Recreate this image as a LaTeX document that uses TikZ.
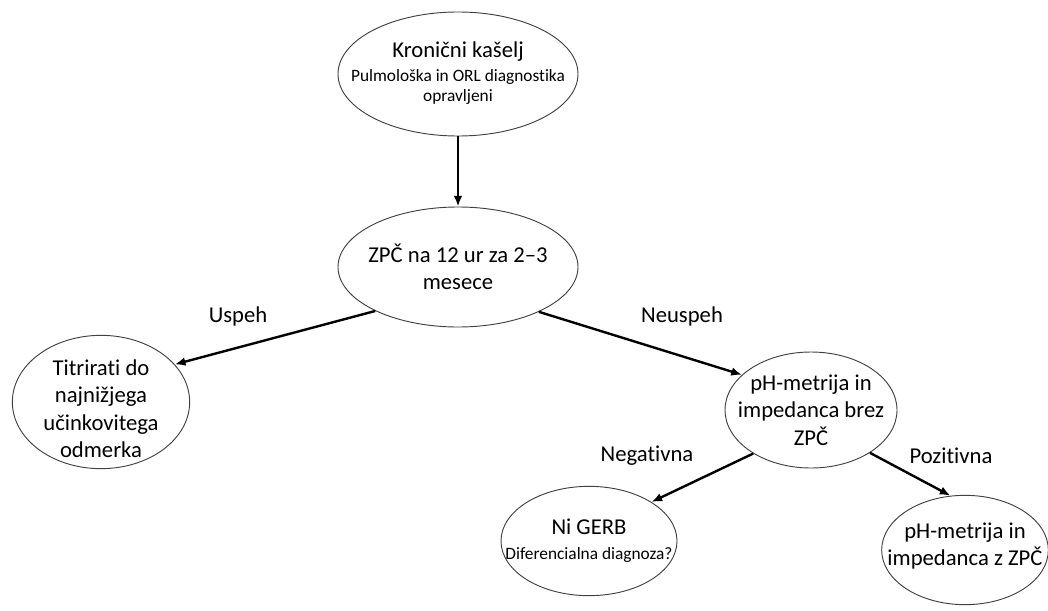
\documentclass[tikz,border=0pt]{standalone}
\usepackage{fontspec}
\setmainfont{Carlito}[Ligatures=NoCommon]
\usepackage{tikz}
\usetikzlibrary{shapes.geometric,arrows.meta}

\tikzset{
  blob/.style={ellipse, draw=black!75, line width=0.7pt, inner sep=0pt},
  flowarrow/.style={-{Latex[length=8pt,width=6.5pt]}, line width=1.8pt},
  bigtext/.style={font=\fontsize{17}{20.5}\selectfont, align=center},
}
\newcommand{\smalltxt}{\fontsize{13}{15}\selectfont}

\begin{document}
\begin{tikzpicture}[x=0.75pt,y=-0.75pt]
          \useasboundingbox (0,0) rectangle (1048,610);
          % ellipses
          \node[blob, minimum width=180pt, minimum height=93pt,
                label={[bigtext, yshift=1pt]center:Kronični kašelj\\[-2pt]\smalltxt Pulmološka in ORL diagnostika\\[-6pt]\smalltxt opravljeni}] (kasel) at (458,74) {};
          \node[blob, minimum width=180pt, minimum height=90pt,
                label={[bigtext]center:ZPČ na 12 ur za 2–3\\mesece}] (zpc) at (458,267) {};
          \node[blob, minimum width=133pt, minimum height=100pt,
                label={[bigtext, yshift=-5pt]center:Titrirati do\\najnižjega\\učinkovitega\\odmerka}] (titr) at (101,402) {};
          \node[blob, minimum width=129pt, minimum height=87pt,
                label={[bigtext]center:pH-metrija in\\impedanca brez\\ZPČ}] (brez) at (811,410) {};
          \node[blob, minimum width=132pt, minimum height=82pt,
                label={[bigtext]center:Ni GERB\\[-2pt]\smalltxt Diferencialna diagnoza?}] (gerb) at (589,541) {};
          \node[blob, minimum width=125pt, minimum height=82pt,
                label={[bigtext, yshift=3pt]center:pH-metrija in\\impedanca z ZPČ}] (zzpc) at (965,550) {};
          % arrows
          \draw[flowarrow] (kasel.south) -- (zpc.north);
          \draw[flowarrow] (zpc.208) -- (titr.27);
          \draw[flowarrow] (zpc.331) -- (brez.153);
          \draw[flowarrow] (brez.217) -- (gerb.32);
          \draw[flowarrow] (brez.324) -- (zzpc.105);
          % labels
          \node[bigtext] (uspeh) at (238,316) {Uspeh};
          \node[bigtext] (neuspeh) at (682,316) {Neuspeh};
          \node[bigtext] (neg) at (647,456) {Negativna};
          \node[bigtext] (poz) at (951,456) {Pozitivna};
        \end{tikzpicture}
\end{document}
